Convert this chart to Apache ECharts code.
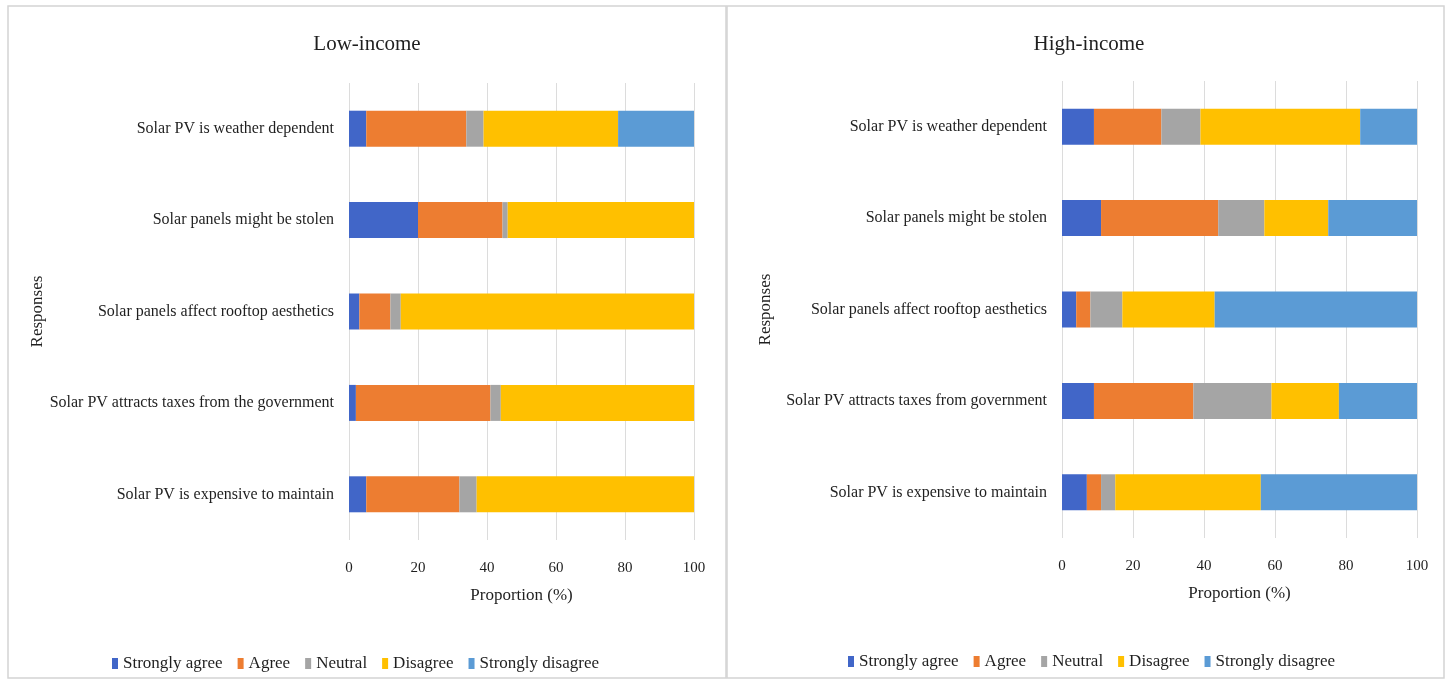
<!DOCTYPE html>
<html>
<head>
<meta charset="utf-8">
<script src="https://cdn.jsdelivr.net/npm/echarts@6/dist/echarts.min.js"></script>
<style>
  html, body { margin: 0; padding: 0; background: #ffffff; }
  #chart { width: 1451px; height: 684px; }
</style>
</head>
<body>
<div id="chart"></div>
<script>
// Statement categories for each panel (top to bottom)
const lowCategories = [
  'Solar PV is weather dependent',
  'Solar panels might be stolen',
  'Solar panels affect rooftop aesthetics',
  'Solar PV attracts taxes from the government',
  'Solar PV is expensive to maintain'
];
const highCategories = [
  'Solar PV is weather dependent',
  'Solar panels might be stolen',
  'Solar panels affect rooftop aesthetics',
  'Solar PV attracts taxes from government',
  'Solar PV is expensive to maintain'
];

const responseNames = ['Strongly agree', 'Agree', 'Neutral', 'Disagree', 'Strongly disagree'];
const responseColors = ['#4166C8', '#ED7D31', '#A5A5A5', '#FFC000', '#5B9BD5'];

// Low-income shares (%)
const lowStronglyAgree    = [5, 20, 3, 2, 5];
const lowAgree            = [29, 24.5, 9, 39, 27];
const lowNeutral          = [5, 1.5, 3, 3, 5];
const lowDisagree         = [39, 54, 85, 56, 63];
const lowStronglyDisagree = [22, 0, 0, 0, 0];

// High-income shares (%)
const highStronglyAgree    = [9, 11, 4, 9, 7];
const highAgree            = [19, 33, 4, 28, 4];
const highNeutral          = [11, 13, 9, 22, 4];
const highDisagree         = [45, 18, 26, 19, 41];
const highStronglyDisagree = [16, 25, 57, 22, 44];

const xTicks = [0, 20, 40, 60, 80, 100];

const lowSeries = [lowStronglyAgree, lowAgree, lowNeutral, lowDisagree, lowStronglyDisagree];
const highSeries = [highStronglyAgree, highAgree, highNeutral, highDisagree, highStronglyDisagree];

const FONT = '"Liberation Serif", "DejaVu Serif", serif';
const TEXT = '#1f1f1f';

function xAxisFor(gridIndex) {
  return {
    type: 'value', gridIndex: gridIndex, min: xTicks[0], max: xTicks[xTicks.length - 1],
    interval: xTicks[1] - xTicks[0],
    name: 'Proportion (%)', nameLocation: 'middle', nameGap: 47,
    nameTextStyle: { fontFamily: FONT, fontSize: 17, color: TEXT },
    axisLine: { show: false }, axisTick: { show: false },
    axisLabel: { fontFamily: FONT, fontSize: 15, color: TEXT, margin: 21 },
    splitLine: { show: true, lineStyle: { color: '#dcdcdc', width: 1 } }
  };
}

function yAxisFor(gridIndex, cats, gap) {
  return {
    type: 'category', gridIndex: gridIndex, data: cats, inverse: true,
    name: 'Responses', nameLocation: 'middle', nameGap: gap, nameRotate: 90,
    nameTextStyle: { fontFamily: FONT, fontSize: 17, color: TEXT },
    axisLine: { show: false }, axisTick: { show: false },
    axisLabel: { fontFamily: FONT, fontSize: 16, color: TEXT, margin: 15 }
  };
}

function seriesFor(gridIndex, values) {
  return responseNames.map((name, i) => ({
    name: name, type: 'bar', stack: 'g' + gridIndex,
    xAxisIndex: gridIndex, yAxisIndex: gridIndex,
    barWidth: 36, itemStyle: { color: responseColors[i] },
    data: values[i]
  }));
}

const legendBase = {
  data: responseNames, itemWidth: 6, itemHeight: 11, itemGap: 15,
  icon: 'rect', textStyle: { fontFamily: FONT, fontSize: 17, color: TEXT }
};

const chart = echarts.init(document.getElementById('chart'), null, { renderer: 'canvas' });
chart.setOption({
  backgroundColor: '#ffffff',
  animation: false,
  color: responseColors,
  graphic: [
    { type: 'rect', shape: { x: 8, y: 6, width: 718, height: 672 },
      style: { fill: 'none', stroke: '#d4d4d4', lineWidth: 1.5 }, silent: true, z: -1 },
    { type: 'rect', shape: { x: 727, y: 6, width: 717, height: 672 },
      style: { fill: 'none', stroke: '#d4d4d4', lineWidth: 1.5 }, silent: true, z: -1 }
  ],
  title: [
    { text: 'Low-income', left: 362, top: 29, textAlign: 'center',
      textStyle: { fontFamily: FONT, fontSize: 21, fontWeight: 'normal', color: TEXT } },
    { text: 'High-income', left: 1084, top: 29, textAlign: 'center',
      textStyle: { fontFamily: FONT, fontSize: 21, fontWeight: 'normal', color: TEXT } }
  ],
  legend: [
    Object.assign({}, legendBase, { left: 107, top: 650 }),
    Object.assign({}, legendBase, { left: 843, top: 648 })
  ],
  grid: [
    { left: 349, right: 1451 - 694, top: 83, height: 457 },
    { left: 1062, right: 1451 - 1417, top: 81, height: 457 }
  ],
  xAxis: [xAxisFor(0), xAxisFor(1)],
  yAxis: [yAxisFor(0, lowCategories, 301), yAxisFor(1, highCategories, 288)],
  series: seriesFor(0, lowSeries).concat(seriesFor(1, highSeries))
});
</script>
</body>
</html>
